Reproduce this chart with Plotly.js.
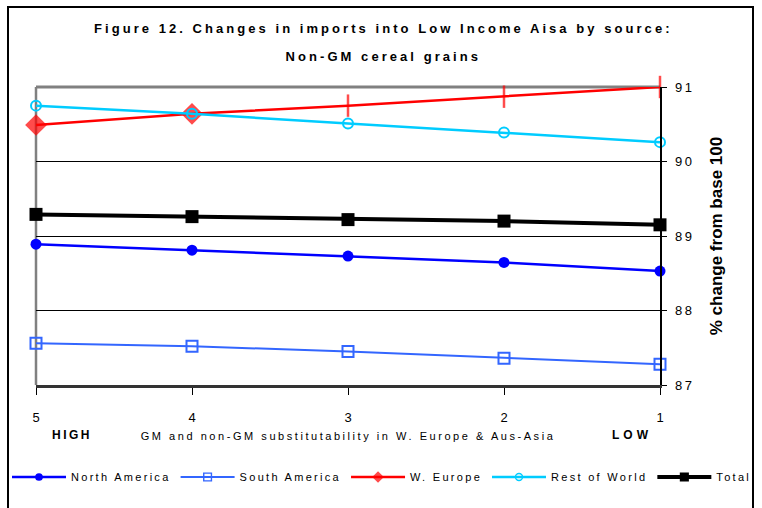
<!DOCTYPE html>
<html><head><meta charset="utf-8">
<script src="https://cdn.plot.ly/plotly-3.0.1.min.js"></script>
<style>body{margin:0;background:#fff}</style>
</head><body><div id="chart" style="width:762px;height:508px"></div>
<script>
const substitutability = [5, 4, 3, 2, 1];
const northAmerica = [88.89, 88.81, 88.73, 88.645, 88.53];
const southAmerica = [87.56, 87.52, 87.45, 87.36, 87.28];
const wEurope = [90.49, 90.64, 90.75, 90.87, 91.0];
const restOfWorld = [90.75, 90.64, 90.51, 90.39, 90.26];
const total = [89.29, 89.26, 89.22, 89.20, 89.15];
const yTicks = [87, 88, 89, 90, 91];
const xTicks = [5, 4, 3, 2, 1];

const sp = (t, ls) => '<span style="letter-spacing:' + ls + 'px">' + t + '</span>';
const FONT = 'Liberation Sans, Arial, sans-serif';
const LS = 2.3;

const traces = [
  {name: sp('North America', LS), y: northAmerica, legend: 'legend',
   line: {color: '#0000FF', width: 2.5},
   marker: {symbol: 'circle', size: 11, color: '#0000FF'}},
  {name: sp('South America', LS), y: southAmerica, legend: 'legend',
   line: {color: '#3366FF', width: 2},
   marker: {symbol: 'square-open', size: 11, color: '#3366FF', line: {width: 2, color: '#3366FF'}}},
  {name: sp('W. Europe', LS), y: wEurope, legend: 'legend',
   line: {color: '#FF0000', width: 2.5},
   marker: {symbol: ['diamond', 'diamond', 'line-ns-open', 'line-ns-open', 'line-ns-open'], size: [14, 14, 16, 16, 16],
            color: '#FF0000', line: {width: 2.5, color: '#FF0000'}}},
  {name: sp('Rest of World', LS), y: restOfWorld, legend: 'legend2',
   line: {color: '#00CCFF', width: 2.5},
   marker: {symbol: 'circle-open', size: 10, color: '#00CCFF', line: {width: 2, color: '#00CCFF'}}},
  {name: sp('Total', LS), y: total, legend: 'legend2',
   line: {color: '#000000', width: 4},
   marker: {symbol: 'square', size: 13, color: '#000000'}}
].map(t => Object.assign({type: 'scatter', mode: 'lines+markers', x: substitutability, cliponaxis: false}, t));

const legendBase = {orientation: 'h', xref: 'container', yref: 'container', y: 1 - 477 / 508,
  xanchor: 'left', yanchor: 'middle', font: {family: FONT, size: 11, color: '#000'},
  itemwidth: 54, tracegroupgap: 0, bgcolor: 'rgba(0,0,0,0)', traceorder: 'normal'};

const layout = {
  width: 762, height: 508,
  margin: {l: 36, r: 102, t: 87, b: 123},
  paper_bgcolor: '#fff', plot_bgcolor: '#fff',
  font: {family: FONT, color: '#000', size: 12},
  title: {
    text: '<b>' + sp('Figure 12. Changes in imports into Low Income Aisa by source:', 3.05) + '</b>',
    font: {family: FONT, size: 13, color: '#000'},
    x: 0.503, xanchor: 'center', y: 1 - 28 / 508, yanchor: 'middle',
    subtitle: {text: '<b>' + sp('Non-GM cereal grains', 3.05) + '</b>', font: {family: FONT, size: 13, color: '#000'}}
  },
  showlegend: true,
  legend: Object.assign({}, legendBase, {x: 7 / 762}),
  legend2: Object.assign({}, legendBase, {x: 487 / 762}),
  xaxis: {
    range: [5, 1], tickvals: xTicks, ticktext: xTicks.map(String),
    ticks: 'outside', ticklen: 7, tickcolor: '#000', tickwidth: 1,
    tickfont: {family: FONT, size: 13, color: '#000'}, ticklabelstandoff: 12,
    showline: true, linecolor: '#333', linewidth: 2.5, showgrid: false, zeroline: false,
    title: {text: sp('GM and non-GM substitutability in W. Europe &amp; Aus-Asia', 2.55),
            font: {family: FONT, size: 11, color: '#000'}, standoff: 8}
  },
  yaxis: {
    side: 'right', range: [87, 91], tickvals: yTicks, ticktext: yTicks.map(v => sp(String(v), 2.5)),
    ticks: 'outside', ticklen: 5, tickcolor: '#000', tickwidth: 1,
    tickfont: {family: FONT, size: 13, color: '#000'}, ticklabelstandoff: 6,
    showline: true, linecolor: '#000', linewidth: 1.5,
    showgrid: true, gridcolor: '#000', gridwidth: 1, zeroline: false,
    title: {text: '<b>% change from base 100</b>', font: {family: 'Liberation Sans Narrow, Arial Narrow, sans-serif', size: 17, color: '#000'}, standoff: 16}
  },
  shapes: [
    {type: 'line', xref: 'paper', yref: 'paper', x0: 0, x1: 1, y0: 1, y1: 1, line: {color: '#808080', width: 3}, layer: 'below'},
    {type: 'line', xref: 'paper', yref: 'paper', x0: 0, x1: 0, y0: 0, y1: 1, line: {color: '#808080', width: 2.5}, layer: 'below'},
    {type: 'rect', xref: 'paper', yref: 'paper', x0: (8 - 36) / 624, x1: (753 - 36) / 624, y0: -1, y1: (385 - 7) / 298, line: {color: '#000', width: 2}, layer: 'below'}
  ],
  annotations: [
    {xref: 'paper', yref: 'paper', x: (72 - 36) / 624, y: (385 - 435) / 298, text: '<b>' + sp('HIGH', 2.5) + '</b>', showarrow: false,
     font: {family: FONT, size: 12, color: '#000'}, xanchor: 'center', yanchor: 'middle'},
    {xref: 'paper', yref: 'paper', x: (632 - 36) / 624, y: (385 - 435) / 298, text: '<b>' + sp('LOW', 4) + '</b>', showarrow: false,
     font: {family: FONT, size: 12, color: '#000'}, xanchor: 'center', yanchor: 'middle'}
  ]
};

Plotly.newPlot('chart', traces, layout, {displayModeBar: false, staticPlot: true}).then(gd => {
  // the original legend shows smaller symbols than the plotted markers
  gd.querySelectorAll('g.traces').forEach(g => {
    const txt = g.querySelector('.legendtext');
    const k = txt && txt.textContent.indexOf('W.') === 0 ? 0.5 : 0.7;
    g.querySelectorAll('.legendpoints path.scatterpts').forEach(p => {
      const t = p.getAttribute('transform') || '';
      p.setAttribute('transform', t + ' scale(' + k + ')');
    });
  });
});
</script>
</body></html>
